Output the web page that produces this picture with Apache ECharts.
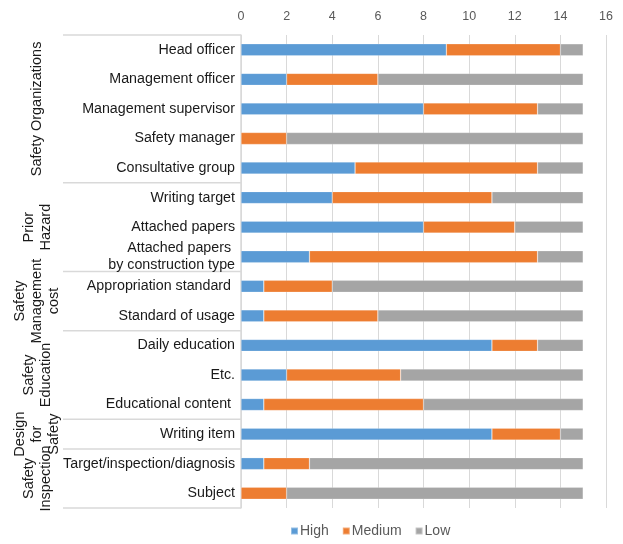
<!DOCTYPE html>
<html>
<head>
<meta charset="utf-8">
<script src="https://cdn.jsdelivr.net/npm/echarts@6/dist/echarts.min.js"></script>
<style>
  html, body { margin: 0; padding: 0; background: #fff; }
  #chart { width: 623px; height: 544px; }
</style>
</head>
<body>
<div id="chart"></div>
<script>
// Checklist items, top to bottom
const categories = [
  'Head officer', 'Management officer', 'Management supervisor', 'Safety manager', 'Consultative group',
  'Writing target', 'Attached papers', 'Attached papers \nby construction type',
  'Appropriation standard ', 'Standard of usage',
  'Daily education', 'Etc.', 'Educational content ',
  'Writing item',
  'Target/inspection/diagnosis', 'Subject'
];
const high   = [9, 2, 8, 0, 5, 4, 8, 3, 1, 1, 11, 2, 1, 11, 1, 0];
const medium = [5, 4, 5, 2, 8, 7, 4, 10, 3, 5, 2, 5, 7, 3, 2, 2];
const low    = [1, 9, 2, 13, 2, 4, 3, 2, 11, 9, 2, 8, 7, 1, 12, 13];

// Item groups (label and number of items in each)
const groupLabels = ['Safety Organizations', 'Prior\nHazard', 'Safety\nManagement\ncost',
                     'Safety\nEducation', 'Design\nfor\nSafety', 'Safety\nInspection'];
const groupSizes = [5, 3, 2, 3, 1, 2];

const xTicks = { min: 0, max: 16, interval: 2 };
const seriesNames = ['High', 'Medium', 'Low'];
const colors = ['#5B9BD5', '#ED7D31', '#A5A5A5'];
const labelFont = 'Liberation Sans, Arial, sans-serif';

const chart = echarts.init(document.getElementById('chart'), null, { renderer: 'canvas' });

const mkSeries = (name, data, color) => ({
  name, type: 'bar', stack: 'total', data,
  barWidth: 12,
  itemStyle: { color, borderColor: 'rgba(255,255,255,0.35)', borderWidth: 0.6 },
  emphasis: { disabled: true }
});

chart.setOption({
  animation: false,
  color: colors,
  grid: { left: 241, right: 17, top: 35, bottom: 36, containLabel: false },
  legend: {
    bottom: 1, left: 285,
    icon: 'rect', itemWidth: 7, itemHeight: 7, itemGap: 13,
    textStyle: { color: '#595959', fontSize: 14, fontFamily: labelFont, padding: [0, 0, 0, -3] },
    data: seriesNames
  },
  xAxis: {
    type: 'value', position: 'top',
    min: xTicks.min, max: xTicks.max, interval: xTicks.interval,
    axisLine: { show: false }, axisTick: { show: false },
    axisLabel: { color: '#595959', fontSize: 12.5, fontFamily: labelFont, margin: 12 },
    splitLine: { show: true, lineStyle: { color: '#D9D9D9', width: 1 } }
  },
  yAxis: {
    type: 'category', inverse: true, data: categories,
    axisLine: { show: true, lineStyle: { color: '#D9D9D9', width: 1.5 } },
    axisTick: { show: false },
    axisLabel: { color: '#1a1a1a', fontSize: 14.25, fontFamily: labelFont, margin: 6, lineHeight: 17 }
  },
  series: [
    mkSeries(seriesNames[0], high, colors[0]),
    mkSeries(seriesNames[1], medium, colors[1]),
    mkSeries(seriesNames[2], low, colors[2])
  ]
});

// Group separators and rotated group titles, placed from the category axis scale
(function drawGroups() {
  const c0 = chart.convertToPixel({ yAxisIndex: 0 }, 0);
  const c1 = chart.convertToPixel({ yAxisIndex: 0 }, 1);
  const band = c1 - c0;
  const edge = i => c0 - band / 2 + band * i;
  const axisX = chart.convertToPixel({ xAxisIndex: 0 }, 0);
  const leftX = 63;
  const titleX = 37;
  const els = [];
  let idx = 0;
  els.push({ type: 'line', shape: { x1: leftX, y1: edge(0), x2: axisX, y2: edge(0) },
             style: { stroke: '#D9D9D9', lineWidth: 1.5 }, silent: true });
  groupSizes.forEach((n, g) => {
    const top = edge(idx), bottom = edge(idx + n);
    els.push({ type: 'line', shape: { x1: leftX, y1: bottom, x2: axisX, y2: bottom },
               style: { stroke: '#D9D9D9', lineWidth: 1.5 }, silent: true });
    els.push({
      type: 'text', x: titleX, y: (top + bottom) / 2, rotation: Math.PI / 2, silent: true,
      style: { text: groupLabels[g], fill: '#1a1a1a', font: '14.5px ' + labelFont,
               textAlign: 'center', textVerticalAlign: 'middle', lineHeight: 17 }
    });
    idx += n;
  });
  chart.setOption({ graphic: els });
})();
</script>
</body>
</html>
